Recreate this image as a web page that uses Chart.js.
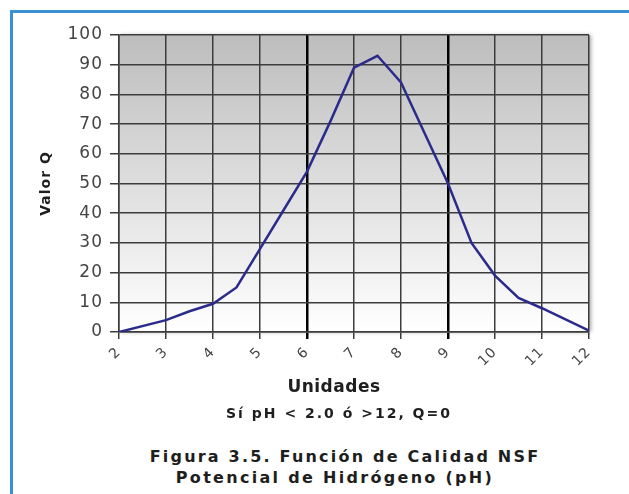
<!DOCTYPE html>
<html>
<head>
<meta charset="utf-8">
<title>Función de Calidad NSF - pH</title>
<script src="https://cdn.jsdelivr.net/npm/chart.js@4.4.0/dist/chart.umd.min.js"></script>
<style>
  html, body { margin: 0; padding: 0; background: #fff; }
  body { width: 629px; height: 494px; position: relative; overflow: hidden; font-family: "DejaVu Sans", sans-serif; }
  .frame { position: absolute; left: 10px; top: 10px; width: 640px; height: 500px; border-left: 3px solid #3a8fd6; border-top: 3px solid #3a8fd6; }
  #chart-box { position: absolute; left: 0; top: 0; width: 629px; height: 400px; }
  .caption { position: absolute; width: 600px; text-align: center; font-weight: bold; color: #1e1e1e; white-space: nowrap; }
</style>
</head>
<body>
<div class="frame"></div>
<div id="chart-box"><canvas id="ph-chart" width="629" height="400"></canvas></div>
<div class="caption" style="left:34px; top:376px; font-size:17px; letter-spacing:0.5px;">Unidades</div>
<div class="caption" style="left:39px; top:405px; font-size:14px; letter-spacing:2px;">Sí pH &lt; 2.0 ó &gt;12, Q=0</div>
<div class="caption" style="left:45px; top:447px; font-size:16px; letter-spacing:2.2px;">Figura 3.5. Función de Calidad NSF</div>
<div class="caption" style="left:35px; top:468px; font-size:16px; letter-spacing:2.3px;">Potencial de Hidrógeno (pH)</div>

<script>
// -----------------------------
// DATA: valor Q vs pH
// -----------------------------
const phValues = [2, 3, 3.5, 4, 4.5, 5, 5.5, 6, 6.5, 7, 7.5, 8, 8.5, 9, 9.5, 10, 10.5, 11, 12];
const qValues  = [0, 4, 7, 9.5, 15, 28, 41, 54, 71, 89, 93, 84, 67, 50, 30, 19, 11.5, 8, 0.5];

const xTicks = [2, 3, 4, 5, 6, 7, 8, 9, 10, 11, 12];
const yTicks = [0, 10, 20, 30, 40, 50, 60, 70, 80, 90, 100];

// pH range limits drawn with heavier grid lines
const rangeLimits = [6, 9];

const FONT = "'DejaVu Sans', Verdana, sans-serif";

// -----------------------------
// PLUGINS
// -----------------------------
// grey-to-white gradient behind the plot
const plotBackground = {
  id: "plotBackground",
  beforeDraw(chart) {
    const { ctx, chartArea: a } = chart;
    ctx.save();
    ctx.shadowColor = "rgba(0,0,0,0.35)";
    ctx.shadowBlur = 4;
    ctx.shadowOffsetX = 2;
    const g = ctx.createLinearGradient(0, a.top, 0, a.bottom);
    g.addColorStop(0, "#bdbdbd");
    g.addColorStop(1, "#ffffff");
    ctx.fillStyle = g;
    ctx.fillRect(a.left, a.top, a.width, a.height);
    ctx.restore();
  }
};

// wider spacing for the tick label text
const textSpacing = {
  id: "textSpacing",
  beforeLayout(chart) { chart.ctx.letterSpacing = "1px"; },
  beforeDraw(chart) { chart.ctx.letterSpacing = "1px"; }
};

// -----------------------------
// CHART
// -----------------------------
const points = phValues.map((x, i) => ({ x, y: qValues[i] }));

new Chart(document.getElementById("ph-chart"), {
  type: "line",
  data: {
    datasets: [{
      label: "Valor Q",
      data: points,
      borderColor: "#2b2b8c",
      borderWidth: 2.5,
      pointRadius: 0,
      tension: 0,
      fill: false
    }]
  },
  options: {
    responsive: false,
    animation: false,
    layout: { padding: { left: 38, top: 35, right: 40, bottom: 3 } },
    plugins: {
      legend: { display: false },
      tooltip: { enabled: false }
    },
    scales: {
      x: {
        type: "linear",
        min: 2,
        max: 12,
        afterBuildTicks: s => { s.ticks = xTicks.map(v => ({ value: v })); },
        afterFit: s => { s.height = 65; },
        ticks: {
          minRotation: 45,
          maxRotation: 45,
          padding: 5,
          color: "#444",
          font: { family: FONT, size: 14 }
        },
        grid: {
          color: c => rangeLimits.includes(c.tick && c.tick.value) ? "#000" : "#3c3c3c",
          lineWidth: c => rangeLimits.includes(c.tick && c.tick.value) ? 2.5 : 1.5,
          tickLength: 7
        },
        border: { color: "#3c3c3c", width: 1.5 }
      },
      y: {
        min: 0,
        max: 100,
        afterBuildTicks: s => { s.ticks = yTicks.map(v => ({ value: v })); },
        afterFit: s => { s.width = 81; },
        ticks: {
          padding: 7,
          color: "#444",
          font: { family: FONT, size: 17 }
        },
        grid: { color: "#3c3c3c", lineWidth: 1.5, tickLength: 9 },
        border: { color: "#3c3c3c", width: 1.5 },
        title: {
          display: true,
          text: "Valor Q",
          color: "#1e1e1e",
          padding: 0,
          font: { family: FONT, size: 14, weight: "bold" }
        }
      }
    }
  },
  plugins: [plotBackground, textSpacing]
});
</script>
</body>
</html>
